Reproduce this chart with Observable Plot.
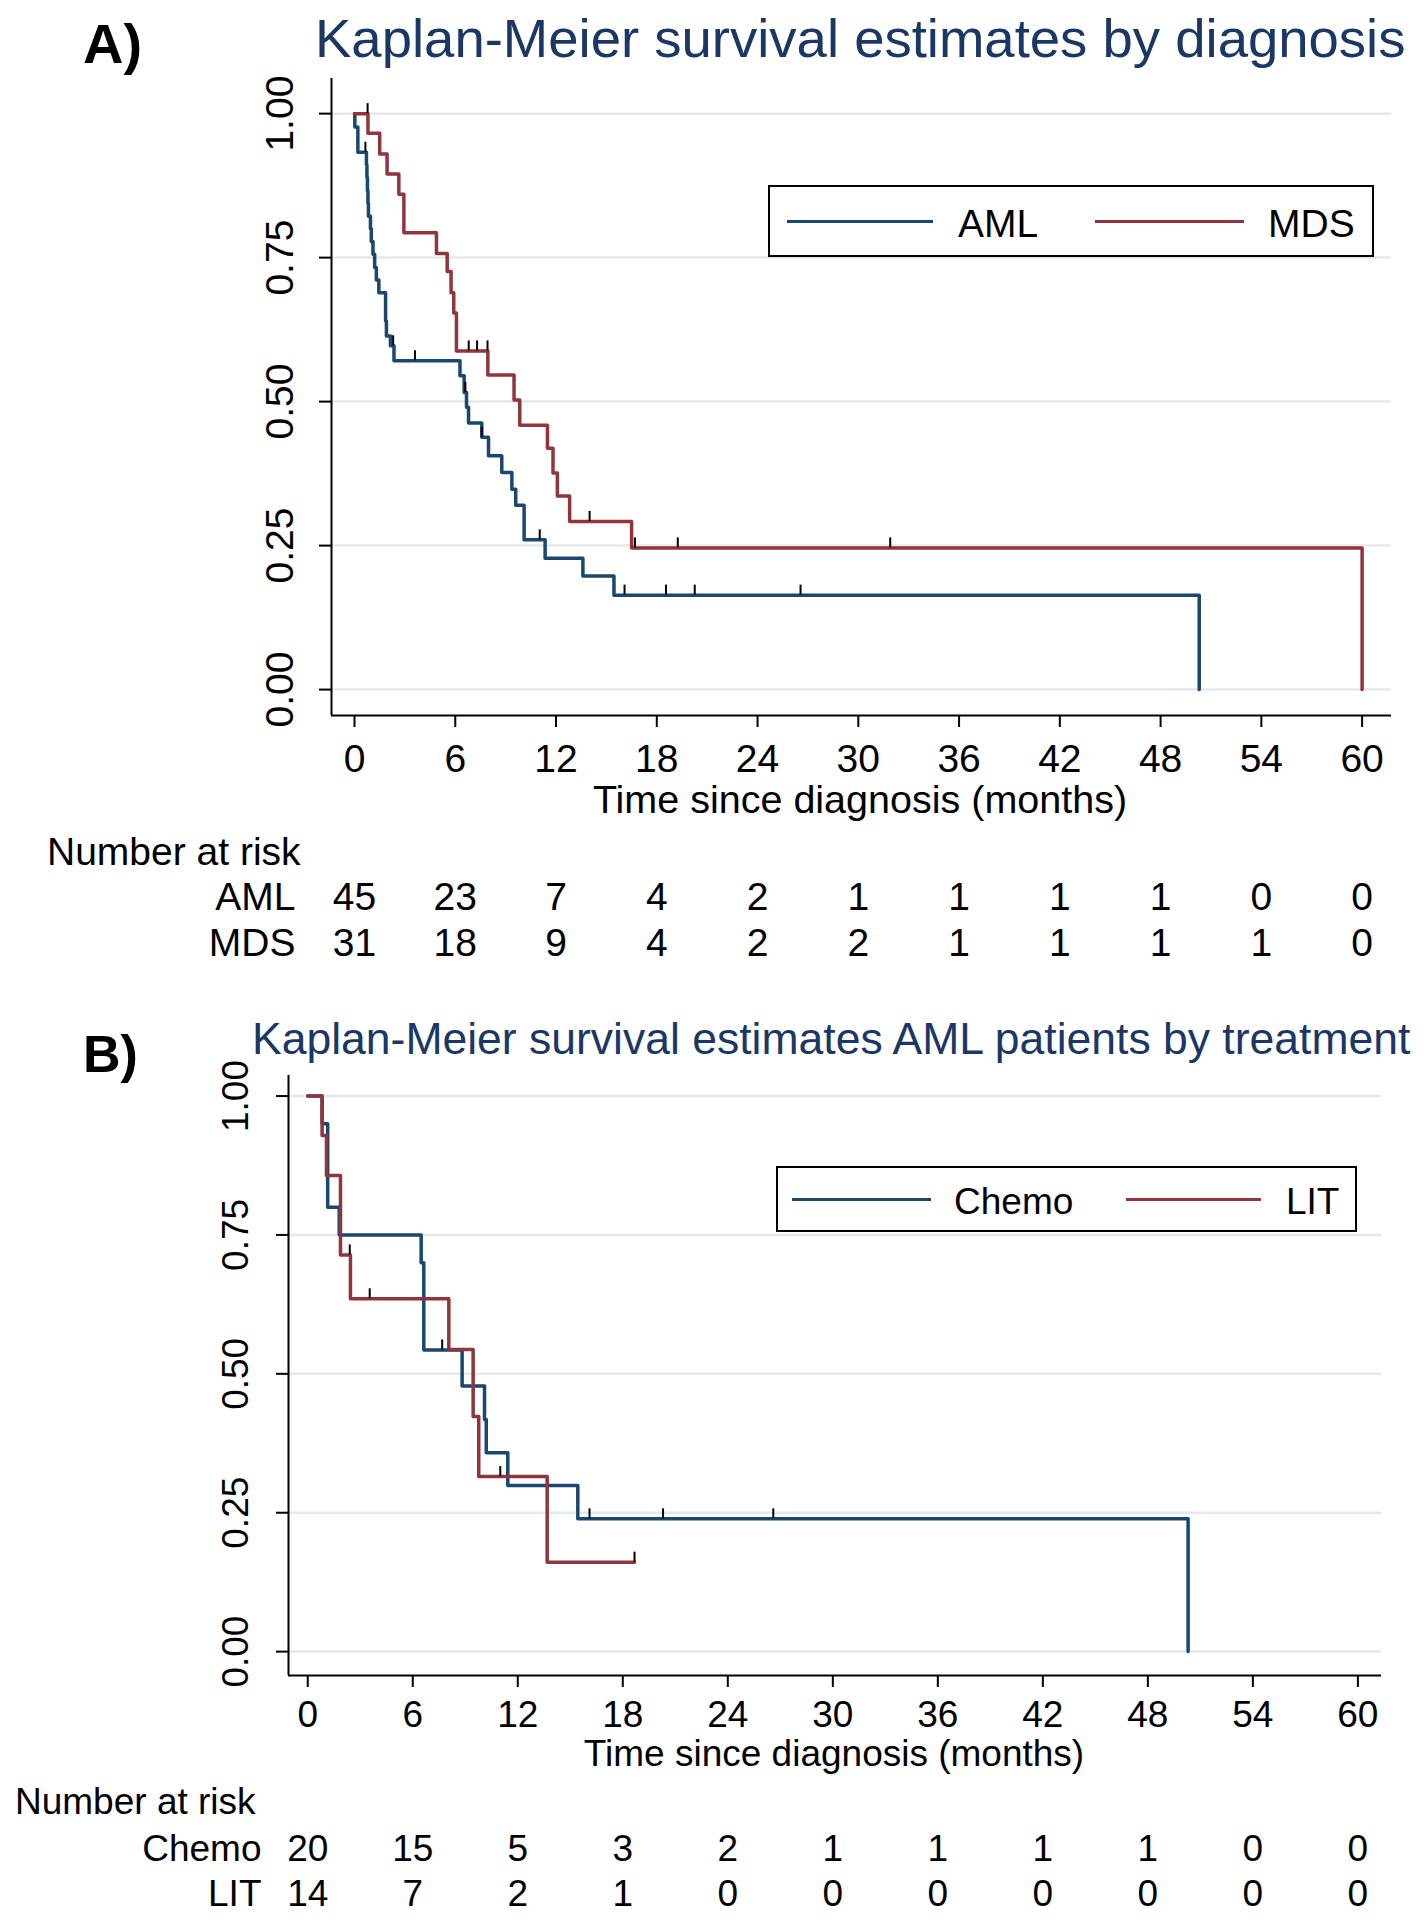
<!DOCTYPE html>
<html>
<head>
<meta charset="utf-8">
<script src="https://cdn.jsdelivr.net/npm/d3@7"></script>
<script src="https://cdn.jsdelivr.net/npm/@observablehq/plot@0.6"></script>
<style>
  body { margin: 0; background: #fff; }
  #page { position: relative; width: 1424px; height: 1920px; overflow: hidden;
          font-family: "Liberation Sans", Arial, sans-serif; color: #000; background: #fff; }
  .abs { position: absolute; white-space: nowrap; line-height: 1; }
  .legend { position: absolute; border: 2px solid #000; background: #fff; box-sizing: border-box; }
  .lline { position: absolute; height: 3px; }
</style>
</head>
<body>
<div id="page"></div>
<script>
// ---------------- data ----------------
const monthTicks = [0, 6, 12, 18, 24, 30, 36, 42, 48, 54, 60];
const survTicks = [0, 0.25, 0.5, 0.75, 1];

// Panel A: by diagnosis
const amlTime = [0, 0.02, 0.2, 0.71, 0.74, 0.77, 0.8, 0.83, 0.95, 1.0, 1.1, 1.2, 1.3, 1.45, 1.85, 1.9, 2.14, 2.35, 6.28, 6.53, 6.67, 6.79, 7.58, 7.98, 8.77, 9.37, 9.6, 10.1, 11.35, 13.6, 15.45, 50.3];
const amlSurv = [1, 0.977, 0.933, 0.911, 0.889, 0.866, 0.844, 0.822, 0.80, 0.778, 0.756, 0.733, 0.711, 0.689, 0.64, 0.614, 0.597, 0.571, 0.545, 0.516, 0.49, 0.463, 0.438, 0.406, 0.377, 0.348, 0.32, 0.26, 0.228, 0.197, 0.164, 0];
const amlCensor = [0.65, 2.3, 3.6, 6.6, 7.58, 11.03, 16.08, 18.55, 20.26, 26.56];

const mdsTime = [0, 0.8, 1.5, 1.94, 2.64, 2.94, 4.88, 5.52, 5.75, 5.91, 6.07, 7.94, 9.5, 9.84, 11.49, 11.82, 12.08, 12.81, 16.5, 60];
const mdsSurv = [1, 0.966, 0.93, 0.895, 0.86, 0.793, 0.757, 0.726, 0.689, 0.654, 0.588, 0.546, 0.503, 0.459, 0.419, 0.376, 0.336, 0.292, 0.246, 0];
const mdsCensor = [0.78, 6.8, 7.3, 7.92, 14.0, 16.7, 19.25, 31.9];

const riskGroupsA = ["AML", "MDS"];
const riskAML = [45, 23, 7, 4, 2, 1, 1, 1, 1, 0, 0];
const riskMDS = [31, 18, 9, 4, 2, 2, 1, 1, 1, 1, 0];

// Panel B: AML patients by treatment
const chemoTime = [0, 0.82, 1.14, 1.8, 6.48, 6.63, 8.82, 10.1, 10.2, 11.43, 15.43, 50.3];
const chemoSurv = [1, 0.95, 0.80, 0.75, 0.70, 0.543, 0.478, 0.418, 0.358, 0.299, 0.239, 0];
const chemoCensor = [7.68, 16.1, 20.3, 26.6];

const litTime = [0, 0.82, 1.07, 1.87, 2.44, 8.06, 9.45, 9.77, 13.68, 18.67];
const litSurv = [1, 0.929, 0.857, 0.714, 0.635, 0.544, 0.423, 0.315, 0.161, 0.161];
const litCensor = [2.4, 3.54, 11.0, 18.67];

const riskGroupsB = ["Chemo", "LIT"];
const riskChemo = [20, 15, 5, 3, 2, 1, 1, 1, 1, 0, 0];
const riskLIT = [14, 7, 2, 1, 0, 0, 0, 0, 0, 0, 0];

// ---------------- helpers ----------------
const NAVY = "#1a476f", MAROON = "#90353b", GRID = "#e4e9ec";
const TITLE = "#1b3765";
const FONT = "'Liberation Sans', Arial, sans-serif";
const page = document.getElementById("page");

function series(T, S) { return T.map((t, i) => ({t, s: S[i]})); }
function censorPts(C, T, S) {
  return C.map(c => {
    let s = S[0];
    for (let i = 0; i < T.length; i++) if (T[i] <= c) s = S[i];
    return {t: c, s};
  });
}
function txt(str, o) {
  const d = document.createElement("div");
  d.className = "abs";
  d.textContent = str;
  d.style.fontSize = o.size + "px";
  if (o.weight) d.style.fontWeight = o.weight;
  if (o.color) d.style.color = o.color;
  d.style.top = (o.cy - 0.49 * o.size) + "px";
  if (o.cx != null) { d.style.left = o.cx + "px"; d.style.transform = "translateX(-50%)"; }
  else d.style.left = o.left + "px";
  page.appendChild(d);
}
function place(el, top) {
  el.style.position = "absolute";
  el.style.left = "0px";
  el.style.top = top + "px";
  el.style.maxWidth = "none";
  page.appendChild(el);
}

function kmChart(cfg) {
  return Plot.plot({
    width: 1424, height: cfg.height,
    marginTop: cfg.mt, marginBottom: cfg.mb, marginLeft: cfg.ml, marginRight: cfg.mr,
    style: {fontFamily: FONT, fontSize: cfg.fs + "px", color: "black", background: "transparent", overflow: "visible"},
    x: {domain: cfg.xd},
    y: {domain: cfg.yd},
    marks: [
      Plot.ruleY(survTicks, {stroke: GRID, strokeWidth: 2.5}),
      Plot.axisY({ticks: survTicks, tickSize: 12, tickFormat: () => "", strokeWidth: 2, label: null}),
      Plot.text(survTicks, {y: d => d, text: d => d.toFixed(2), frameAnchor: "left", textAnchor: "middle", lineAnchor: "middle", dx: cfg.ydx, rotate: -90, fontSize: cfg.fs}),
      Plot.axisX({ticks: monthTicks, tickSize: 12, tickPadding: cfg.tp, strokeWidth: 2, label: null, fontSize: cfg.fs, tickFormat: d => String(d)}),
      Plot.ruleX([cfg.xd[0]], {stroke: "black", strokeWidth: 2}),
      Plot.ruleY([cfg.yd[0]], {stroke: "black", strokeWidth: 2}),
      ...cfg.curves.map(c => Plot.line(c.data, {x: "t", y: "s", stroke: c.color, strokeWidth: 3.5, curve: "step-after"})),
      ...cfg.curves.map(c => Plot.ruleX(c.cens, {x: "t", y1: "s", y2: "s", insetTop: -10, stroke: "black", strokeWidth: 2}))
    ]
  });
}

function riskChart(cfg) {
  const rows = [];
  cfg.groups.forEach((g, gi) => cfg.counts[gi].forEach((n, i) => rows.push({g, t: monthTicks[i], n})));
  return Plot.plot({
    width: 1424, height: cfg.height,
    marginTop: 0, marginBottom: 0, marginLeft: cfg.ml, marginRight: cfg.mr,
    style: {fontFamily: FONT, fontSize: cfg.fs + "px", color: "black", background: "transparent", overflow: "visible"},
    x: {domain: cfg.xd, axis: null},
    y: {type: "point", domain: cfg.groups, range: cfg.yr, padding: 0},
    marks: [
      Plot.text(rows, {x: "t", y: "g", text: d => String(d.n), fontSize: cfg.fs}),
      Plot.axisY({tickSize: 0, tickPadding: cfg.pad, fontSize: cfg.fs, label: null})
    ]
  });
}

function legend(o) {
  const box = document.createElement("div");
  box.className = "legend";
  box.style.left = o.x1 + "px"; box.style.top = o.y1 + "px";
  box.style.width = (o.x2 - o.x1) + "px"; box.style.height = (o.y2 - o.y1) + "px";
  page.appendChild(box);
  o.items.forEach(it => {
    const l = document.createElement("div");
    l.className = "lline";
    l.style.left = it.l1 + "px"; l.style.width = (it.l2 - it.l1) + "px";
    l.style.top = (o.cy - 1.5) + "px"; l.style.background = it.color;
    page.appendChild(l);
    txt(it.label, {left: it.tx, cy: o.cy + 2, size: o.size});
  });
}

// ---------------- Panel A ----------------
txt("A)", {left: 83, cy: 43, size: 56, weight: "bold"});
txt("Kaplan-Meier survival estimates by diagnosis", {left: 315, cy: 39, size: 54.5, color: TITLE});

const xdA = [-1.37, 61.75];
place(kmChart({
  height: 830, mt: 78, mb: 115, ml: 331, mr: 33, fs: 39, tp: 17, ydx: -51,
  xd: xdA, yd: [-0.045, 1.061],
  curves: [
    {data: series(amlTime, amlSurv), cens: censorPts(amlCensor, amlTime, amlSurv), color: NAVY},
    {data: series(mdsTime, mdsSurv), cens: censorPts(mdsCensor, mdsTime, mdsSurv), color: MAROON}
  ]
}), 0);
txt("Time since diagnosis (months)", {cx: 860, cy: 799, size: 39.5});
legend({x1: 768, y1: 185, x2: 1374, y2: 257, cy: 221, size: 39, items: [
  {l1: 787, l2: 933, tx: 958, label: "AML", color: NAVY},
  {l1: 1095, l2: 1244, tx: 1268, label: "MDS", color: MAROON}
]});
txt("Number at risk", {left: 47, cy: 851, size: 39});
place(riskChart({height: 150, ml: 331, mr: 33, fs: 39, pad: 36, xd: xdA,
  groups: riskGroupsA, counts: [riskAML, riskMDS], yr: [77, 123]}), 820);

// ---------------- Panel B ----------------
txt("B)", {left: 83, cy: 1053, size: 52, weight: "bold"});
txt("Kaplan-Meier survival estimates AML patients by treatment", {left: 252, cy: 1039, size: 44.5, color: TITLE});

const xdB = [-1.10, 61.35];
place(kmChart({
  height: 780, mt: 75, mb: 105, ml: 288, mr: 43, fs: 37, tp: 13, ydx: -52,
  xd: xdB, yd: [-0.043, 1.037],
  curves: [
    {data: series(chemoTime, chemoSurv), cens: censorPts(chemoCensor, chemoTime, chemoSurv), color: NAVY},
    {data: series(litTime, litSurv), cens: censorPts(litCensor, litTime, litSurv), color: MAROON}
  ]
}), 1000);
txt("Time since diagnosis (months)", {cx: 834, cy: 1753, size: 37});
legend({x1: 776, y1: 1166, x2: 1357, y2: 1232, cy: 1199, size: 37, items: [
  {l1: 792, l2: 931, tx: 954, label: "Chemo", color: NAVY},
  {l1: 1126, l2: 1261, tx: 1286, label: "LIT", color: MAROON}
]});
txt("Number at risk", {left: 15, cy: 1801, size: 37});
place(riskChart({height: 110, ml: 288, mr: 43, fs: 37, pad: 27, xd: xdB,
  groups: riskGroupsB, counts: [riskChemo, riskLIT], yr: [49, 94]}), 1800);
</script>
</body>
</html>
